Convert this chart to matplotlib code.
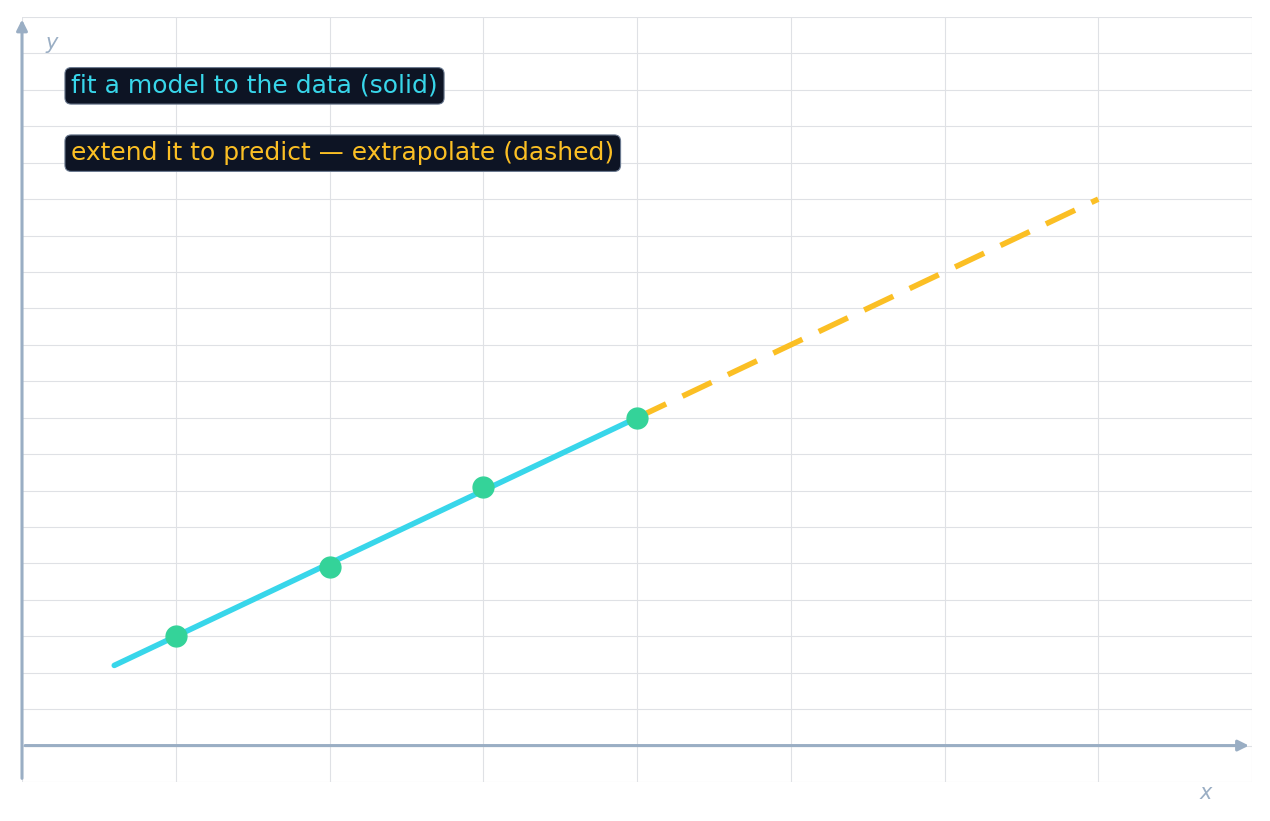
import matplotlib
matplotlib.use("Agg")
import matplotlib.pyplot as plt
import numpy as np

# data: observed points, fitted line, extrapolated part
obs_x = [1, 2, 3, 4]
obs_y = [3, 4.9, 7.1, 9]
fit_x = [0.6, 4]
fit_y = [2.2, 9]
ext_x = [4, 7]
ext_y = [9, 15]

label_fit = "fit a model to the data (solid)"
label_ext = "extend it to predict \u2014 extrapolate (dashed)"

axis_col = "#9aaec4"
grid_col = "#dfe1e5"
cyan = "#38d6ea"
green = "#34d399"
amber = "#fbbf24"
box_bg = "#0d1424"

fig = plt.figure(figsize=(12.7, 8.21), dpi=100)
ax = fig.add_axes([22/1270, 39/821, 1230/1270, 765/821])
ax.set_xlim(0, 8)
ax.set_ylim(-1, 20)
ax.set_xticks(np.arange(0, 9, 1))
ax.set_yticks(np.arange(-1, 21, 1))
ax.grid(True, color=grid_col, lw=0.8)
ax.tick_params(length=0, labelbottom=False, labelleft=False)
for s in ax.spines.values():
    s.set_visible(False)

# axes drawn as arrows
ax.annotate("", xy=(7.98, 0), xytext=(0.02, 0),
            arrowprops=dict(arrowstyle="-|>", color=axis_col, lw=2.2,
                            mutation_scale=16, shrinkA=0, shrinkB=0))
ax.annotate("", xy=(0, 19.93), xytext=(0, -0.9),
            arrowprops=dict(arrowstyle="-|>", color=axis_col, lw=2.2,
                            mutation_scale=16, shrinkA=0, shrinkB=0))
ax.text(7.7, -1.3, "x", color=axis_col, fontsize=15, style="italic",
        ha="center", va="center")
ax.text(0.19, 19.3, "y", color=axis_col, fontsize=15, style="italic",
        ha="center", va="center")

ax.plot(fit_x, fit_y, color=cyan, lw=4, solid_capstyle="round", zorder=3)
ax.plot(ext_x, ext_y, color=amber, lw=4, dashes=(5.8, 3.25), zorder=3)
ax.plot(obs_x, obs_y, "o", color=green, ms=15, zorder=4)

box = dict(boxstyle="round,pad=0.25", fc=box_bg, ec="#6b7a90", lw=0.8)
ax.text(0.04, 0.91, label_fit, transform=ax.transAxes, color=cyan,
        fontsize=18, va="center", ha="left", bbox=box)
ax.text(0.04, 0.822, label_ext, transform=ax.transAxes, color=amber,
        fontsize=18, va="center", ha="left", bbox=box)

fig.savefig("out.png", dpi=100)
